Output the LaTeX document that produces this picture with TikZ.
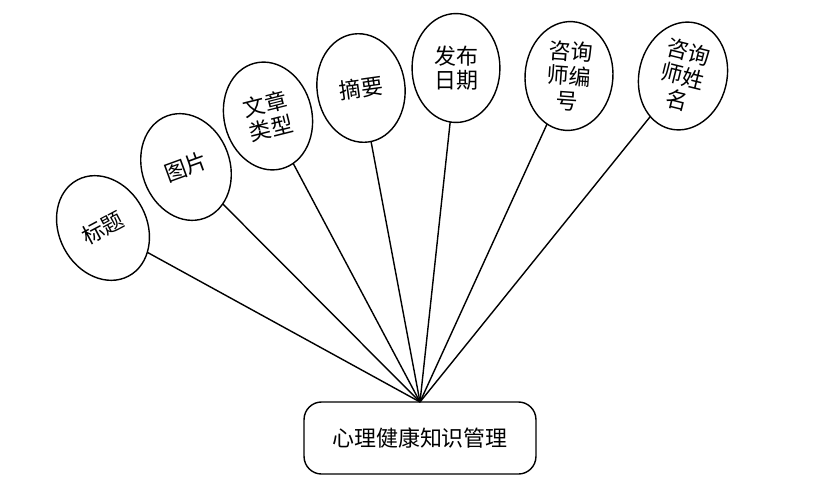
\documentclass[tikz,border=0pt]{standalone}
\usepackage{fontspec}
\newfontfamily\cjk{Noto Sans CJK SC}
\usetikzlibrary{shapes.geometric}
\tikzset{%
  attr/.style={
    draw, thick, ellipse, fill=white,
    minimum width=50pt, minimum height=62pt,
    inner sep=0pt, align=center,
    font=\cjk\fontsize{12.5}{14}\selectfont
  },
  entity/.style={
    draw, thick, rounded corners=10pt,
    minimum width=132pt, minimum height=41pt,
    font=\cjk\fontsize{12.5}{14}\selectfont
  },
}
\begin{document}
\begin{tikzpicture}[x=0.02cm, y=-0.02cm]
  \useasboundingbox (0,0) rectangle (836,497);
  % entity
  \node [entity] (mgmt) at (420,438) {心理健康知识管理};
  \coordinate (hub) at (420,402);
  % attributes
  \foreach \n/\t/\x/\y/\r in {
    title/标题/103/228/28,
    pic/图片/186/167/20,
    type/文章\\类型/268/116/14,
    abs/摘要/361/88/8,
    date/发布\\日期/456/68/0,
    cid/咨询\\师编\\号/569/76/-4,
    cname/咨询\\师姓\\名/683/76/-14}
  {
    \draw [thick] (hub) -- (\x,\y);
    \node [attr, rotate=\r] (\n) at (\x,\y) {\t};
  }
\end{tikzpicture}
\end{document}
